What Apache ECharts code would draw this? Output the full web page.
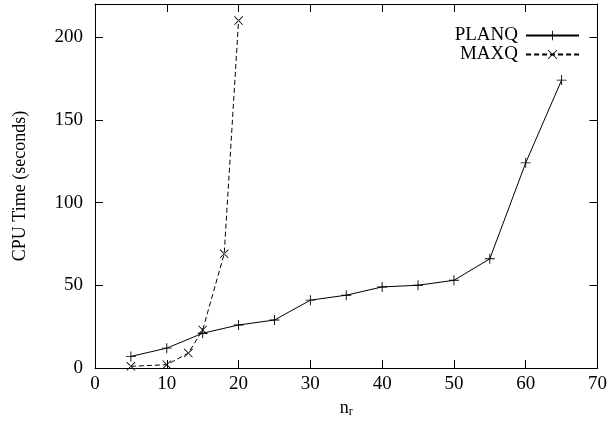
<!DOCTYPE html>
<html><head><meta charset="utf-8">
<script src="https://cdn.jsdelivr.net/npm/echarts@6/dist/echarts.min.js"></script>
<style>html,body{margin:0;padding:0;background:#fff}#c{width:610px;height:427px}</style>
</head><body><div id="c"></div>
<script>
var planqX = [5,10,15,20,25,30,35,40,45,50,55,60,65];
var planqY = [7,12,21,26,29,41,44,49,50,53,66,124,174];
var maxqX = [5,10,13,15,18,20];
var maxqY = [1,2,9,23,69,210];
var xTicks = [0,10,20,30,40,50,60,70];
var yTicks = [0,50,100,150,200];

var plusPath = 'path://M-0.09,-1L0.09,-1L0.09,1L-0.09,1ZM-1,-0.09L1,-0.09L1,0.09L-1,0.09Z';
var crossPath = 'path://M-1,-0.87L-0.87,-1L1,0.87L0.87,1ZM1,-0.87L0.87,-1L-1,0.87L-0.87,1Z';
var font = 'Liberation Serif';
function pairs(xs, ys){ return xs.map(function(x,i){return [x, ys[i]];}); }

var chart = echarts.init(document.getElementById('c'), null, {renderer:'canvas'});
function axisCommon(){ return {
  axisLine:{show:true,onZero:false,lineStyle:{color:'#000',width:1}},
  axisTick:{show:true,inside:true,length:8,lineStyle:{color:'#000'}},
  splitLine:{show:false}
};}
chart.setOption({
  animation:false,
  backgroundColor:'#fff',
  grid:{left:95,right:8,top:4,bottom:59,containLabel:false},
  legend:{
    right:25, top:21, orient:'vertical', align:'right', itemGap:0,
    itemWidth:53, itemHeight:12,
    textStyle:{fontFamily:font,fontSize:19,color:'#000',lineHeight:18,padding:[0,3,0,0]},
    data:['PLANQ','MAXQ']
  },
  xAxis:[
    Object.assign({type:'value',min:0,max:70,interval:10,position:'bottom',
      name:'{n|n}{s|r}', nameLocation:'middle', nameGap:25,
      nameTextStyle:{rich:{n:{fontFamily:font,fontSize:18,color:'#000'},s:{fontFamily:font,fontSize:12,color:'#000',verticalAlign:'bottom',padding:[8,0,0,0]}}},
      axisLabel:{fontFamily:font,fontSize:19,color:'#000',margin:7,formatter:function(v){return xTicks.indexOf(v)>=0?String(v):'';}}
    }, axisCommon()),
    Object.assign({type:'value',min:0,max:70,interval:10,position:'top',axisLabel:{show:false}}, axisCommon())
  ],
  yAxis:[
    Object.assign({type:'value',min:0,max:220,interval:50,position:'left',
      name:'CPU Time (seconds)', nameLocation:'middle', nameGap:66, nameRotate:90,
      nameTextStyle:{fontFamily:font,fontSize:18,color:'#000'},
      axisLabel:{fontFamily:font,fontSize:19,color:'#000',margin:12,showMaxLabel:false,formatter:function(v){return yTicks.indexOf(v)>=0?String(v):'';}}
    }, axisCommon()),
    Object.assign({type:'value',min:0,max:220,interval:50,position:'right',axisLabel:{show:false}}, axisCommon())
  ],
  series:[
    {name:'PLANQ',type:'line',data:pairs(planqX,planqY),symbol:plusPath,symbolSize:10,
     lineStyle:{color:'#000',width:1,type:'solid'},itemStyle:{color:'#000'},showSymbol:true},
    {name:'MAXQ',type:'line',data:pairs(maxqX,maxqY),symbol:crossPath,symbolSize:9,
     lineStyle:{color:'#000',width:1,type:[5,3]},itemStyle:{color:'#000'},showSymbol:true}
  ]
});
</script></body></html>
